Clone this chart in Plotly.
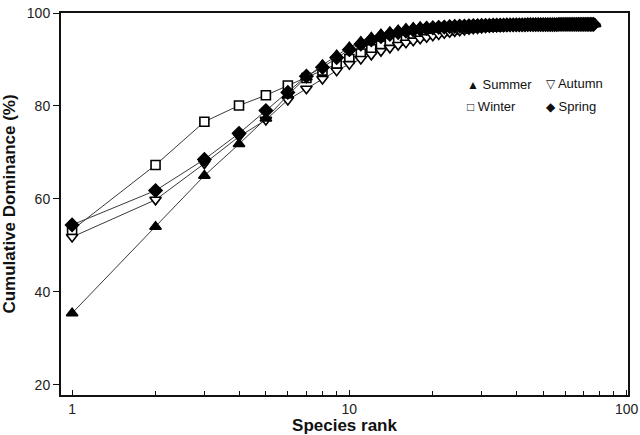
import plotly.graph_objects as go

# ---------------- data ----------------
summer = [35.4, 54.0, 65.0, 71.8, 77.3, 82.3, 86.2, 88.8, 90.9, 92.6,
          93.8, 94.7, 95.4, 95.9, 96.3, 96.6, 96.8, 96.95, 97.05, 97.1,
          97.15, 97.2, 97.22, 97.25, 97.27, 97.3, 97.32, 97.34, 97.36, 97.38,
          97.4, 97.41, 97.42, 97.43, 97.44, 97.45, 97.46, 97.47, 97.48, 97.49,
          97.5, 97.5, 97.51, 97.51, 97.52, 97.52, 97.53, 97.53, 97.54, 97.54,
          97.55, 97.55, 97.55, 97.56, 97.56, 97.56, 97.57, 97.57, 97.57, 97.58,
          97.58, 97.58, 97.58, 97.59, 97.59, 97.59, 97.59, 97.6, 97.6, 97.6,
          97.6, 97.6, 97.61, 97.61, 97.61, 97.61, 97.62]

spring = [54.4, 61.8, 68.5, 74.1, 79.0, 82.9, 86.4, 88.3, 90.4, 92.1,
          93.3, 94.2, 94.9, 95.4, 95.8, 96.1, 96.35, 96.55, 96.7, 96.8,
          96.9, 96.98, 97.05, 97.1, 97.15, 97.2, 97.23, 97.26, 97.29, 97.31,
          97.33, 97.35, 97.37, 97.39, 97.4, 97.41, 97.42, 97.43, 97.44, 97.45,
          97.46, 97.47, 97.47, 97.48, 97.48, 97.49, 97.49, 97.5, 97.5, 97.5,
          97.51, 97.51, 97.51, 97.52, 97.52, 97.52, 97.53, 97.53, 97.53, 97.53,
          97.54, 97.54, 97.54, 97.54, 97.55, 97.55, 97.55, 97.55, 97.55, 97.56,
          97.56, 97.56, 97.56, 97.56, 97.57, 97.57]

winter = [53.3, 67.3, 76.6, 80.1, 82.3, 84.4, 86.0, 87.6, 89.0, 90.1,
          91.3, 92.2, 93.0, 93.6, 94.1, 94.5, 94.9, 95.2, 95.5, 95.75,
          95.95, 96.15, 96.3, 96.45, 96.6, 96.7, 96.8, 96.88, 96.95, 97.0,
          97.05, 97.1, 97.14, 97.18, 97.21, 97.24, 97.27, 97.29, 97.31, 97.33,
          97.35, 97.36, 97.37, 97.38, 97.39, 97.4, 97.41, 97.42, 97.43, 97.44,
          97.44, 97.45, 97.45, 97.46, 97.46, 97.47, 97.47, 97.48, 97.48, 97.48,
          97.49, 97.49, 97.49, 97.5, 97.5, 97.5, 97.5, 97.51, 97.51, 97.51,
          97.51, 97.52, 97.52, 97.52]

autumn = [51.8, 59.8, 67.6, 73.4, 77.0, 81.3, 83.7, 85.8, 87.6, 89.0,
          90.1, 91.0, 91.8, 92.5, 93.1, 93.6, 94.05, 94.45, 94.8, 95.1,
          95.4, 95.65, 95.85, 96.05, 96.2, 96.35, 96.5, 96.6, 96.7, 96.8,
          96.88, 96.95, 97.01, 97.06, 97.1, 97.14, 97.17, 97.2, 97.23, 97.25,
          97.27, 97.29, 97.31, 97.32, 97.34, 97.35, 97.36, 97.37, 97.38, 97.39,
          97.4, 97.41, 97.41, 97.42, 97.43, 97.43, 97.44, 97.44, 97.45, 97.45,
          97.46, 97.46, 97.46, 97.47, 97.47, 97.47, 97.48, 97.48, 97.48, 97.49,
          97.49, 97.49, 97.49, 97.5, 97.5]

x_tickvals = [1, 10, 100]
x_ticktext = ["1", "10", "100"]
x_minor = [2, 3, 4, 5, 6, 7, 8, 9, 20, 30, 40, 50, 60, 70, 80, 90]
y_tickvals = [20, 40, 60, 80, 100]

def ranks(vals):
    return list(range(1, len(vals) + 1))

LINE = "#3a3a3a"
INK = "#111111"
FONT = "Liberation Sans, Arial, sans-serif"

fig = go.Figure()

series = [
    ("Winter", winter, "square", "white", 9),
    ("Autumn", autumn, "triangle-down", "white", 10),
    ("Spring", spring, "diamond", "black", 10),
    ("Summer", summer, "triangle-up", "black", 10),
]
for name, vals, sym, fill, size in series:
    fig.add_trace(go.Scatter(
        x=ranks(vals), y=vals, name=name, mode="lines+markers",
        line=dict(color=LINE, width=1),
        marker=dict(symbol=sym, size=size, color=fill,
                    line=dict(color="black", width=1.6)),
        showlegend=False,
    ))

axis_common = dict(showgrid=False, zeroline=False, automargin=False)

fig.update_layout(
    width=640, height=435,
    margin=dict(l=61, r=12, t=13, b=40),
    paper_bgcolor="white", plot_bgcolor="white",
    font=dict(family=FONT, color=INK, size=13),
    # labelled x axis carries the inner half of the crossing ticks
    xaxis=dict(
        type="log", range=[-0.04, 2.005],
        tickvals=x_tickvals, ticktext=x_ticktext,
        ticks="inside", ticklen=5, tickwidth=1, tickcolor=INK,
        minor=dict(tickvals=x_minor, ticks="inside", ticklen=4,
                   tickwidth=1, tickcolor=INK),
        showline=True, linewidth=2, linecolor=INK, mirror=True,
        tickfont=dict(size=14, color="#222"),
        title=dict(text="<b>Species rank</b>", font=dict(size=17, color=INK)),
        **axis_common,
    ),
    yaxis=dict(
        range=[17.8, 100],
        tickvals=y_tickvals,
        ticks="outside", ticklen=6, tickwidth=1, tickcolor=INK,
        showline=True, linewidth=2, linecolor=INK, mirror=True,
        tickfont=dict(size=14, color="#222"),
        title=dict(text="<b>Cumulative Dominance (%)</b>",
                   font=dict(size=17, color=INK)),
        **axis_common,
    ),
    # overlay x axis carries the outer half of the crossing ticks
    xaxis2=dict(
        type="log", range=[-0.04, 2.005], overlaying="x", anchor="y",
        tickvals=x_tickvals, showticklabels=False,
        ticks="outside", ticklen=5, tickwidth=1, tickcolor=INK,
        minor=dict(tickvals=x_minor, ticks="outside", ticklen=3,
                   tickwidth=1, tickcolor=INK),
        showline=False, **axis_common,
    ),
    yaxis2=dict(
        range=[17.8, 100], overlaying="y", anchor="x",
        tickvals=y_tickvals, showticklabels=False,
        ticks="inside", ticklen=5, tickwidth=1, tickcolor=INK,
        showline=False, **axis_common,
    ),
)

legend_items = [
    ("\u25B2", "Summer", 0.713, 0.813),
    ("\u25BD", "Autumn", 0.851, 0.816),
    ("\u25A1", "Winter", 0.713, 0.756),
    ("\u25C6", "Spring", 0.851, 0.756),
]
for sym, label, lx, ly in legend_items:
    fig.add_annotation(
        xref="paper", yref="paper", x=lx, y=ly,
        xanchor="left", yanchor="middle", showarrow=False,
        text=f"<span style='font-size:12px'>{sym}</span> {label}",
        font=dict(family=FONT, size=13, color=INK),
    )

fig.write_html("out.html",
               config={"displayModeBar": False},
               post_script="document.body.style.margin='0';document.body.style.overflow='hidden';")
